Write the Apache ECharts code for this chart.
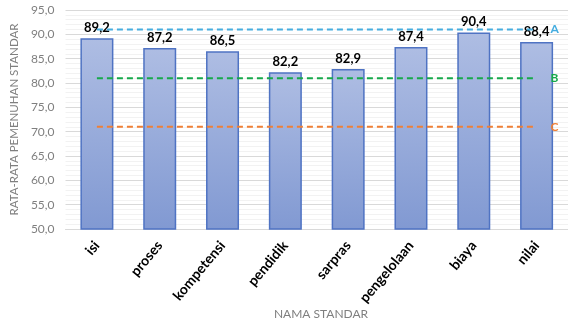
<!DOCTYPE html>
<html><head><meta charset="utf-8">
<script src="https://cdn.jsdelivr.net/npm/echarts@6/dist/echarts.min.js"></script>
<style>html,body{margin:0;padding:0;background:#fff}#c{width:568px;height:324px}</style>
</head><body><div id="c"></div>
<script>
var categories = ['isi','proses','kompetensi','pendidik','sarpras','pengelolaan','biaya','nilai'];
var values = [89.2, 87.2, 86.5, 82.2, 82.9, 87.4, 90.4, 88.4];
var lineA = [91, 91, 91, 91, 91, 91, 91, 91];
var lineB = [81, 81, 81, 81, 81, 81, 81, 81];
var lineC = [71, 71, 71, 71, 71, 71, 71, 71];
var yTicks = [50, 55, 60, 65, 70, 75, 80, 85, 90, 95];

var FONT = 'Lato';
function fmt(v){ return v.toFixed(1).replace('.', ','); }
function refLine(name, data, color){
  return {
    name: name, type: 'line', data: data, symbol: 'none', z: 3,
    lineStyle: {color: color, type: [6, 4], width: 2},
    endLabel: {show: true, formatter: name, color: color, fontWeight: 'bold',
      fontFamily: FONT, fontSize: 12, distance: 14},
    silent: true
  };
}
var chart = echarts.init(document.getElementById('c'), null, {renderer: 'canvas'});
chart.setOption({
  animation: false,
  textStyle: {fontFamily: FONT},
  title: {
    text: 'NAMA STANDAR', left: 316, top: 303, textAlign: 'center',
    textStyle: {color: '#7f7f7f', fontSize: 12, fontWeight: 'normal', fontFamily: FONT}
  },
  grid: {left: 60, top: 10, width: 509, bottom: 95, containLabel: false},
  xAxis: {
    type: 'category', data: categories,
    axisLine: {lineStyle: {color: '#d9d9d9'}},
    axisTick: {show: false},
    axisLabel: {rotate: 50, color: '#000', fontWeight: 'bold', fontSize: 14,
      fontFamily: FONT, margin: 14, interval: 0}
  },
  yAxis: {
    type: 'value', min: yTicks[0], max: yTicks[yTicks.length - 1], interval: 5,
    name: 'RATA-RATA PEMENUHAN STANDAR', nameLocation: 'middle', nameGap: 45,
    nameTextStyle: {color: '#7f7f7f', fontSize: 11.5, fontFamily: FONT},
    axisLine: {show: false}, axisTick: {show: false},
    axisLabel: {color: '#7f7f7f', fontSize: 12, fontFamily: FONT, margin: 11,
      formatter: function(v){ return fmt(v); }},
    splitLine: {lineStyle: {color: '#d9d9d9', width: 1}},
    minorTick: {show: false, splitNumber: 5},
    minorSplitLine: {show: true, lineStyle: {color: '#f2f2f2', width: 1}}
  },
  series: [
    {
      type: 'bar', data: values, barWidth: 33, z: 2,
      itemStyle: {
        color: new echarts.graphic.LinearGradient(0, 0, 0, 1, [
          {offset: 0, color: '#aebde3'}, {offset: 1, color: '#8199d2'}]),
        borderColor: '#4f73c3', borderWidth: 1.5
      },
      label: {show: true, position: 'top', distance: 4, color: '#000',
        fontWeight: 'bold', fontSize: 13, fontFamily: FONT,
        formatter: function(p){ return fmt(p.value); }},
      labelLayout: {moveOverlap: false}
    },
    refLine('A', lineA, '#45ade0'),
    refLine('B', lineB, '#16a94a'),
    refLine('C', lineC, '#ef7f35')
  ]
});
</script></body></html>
